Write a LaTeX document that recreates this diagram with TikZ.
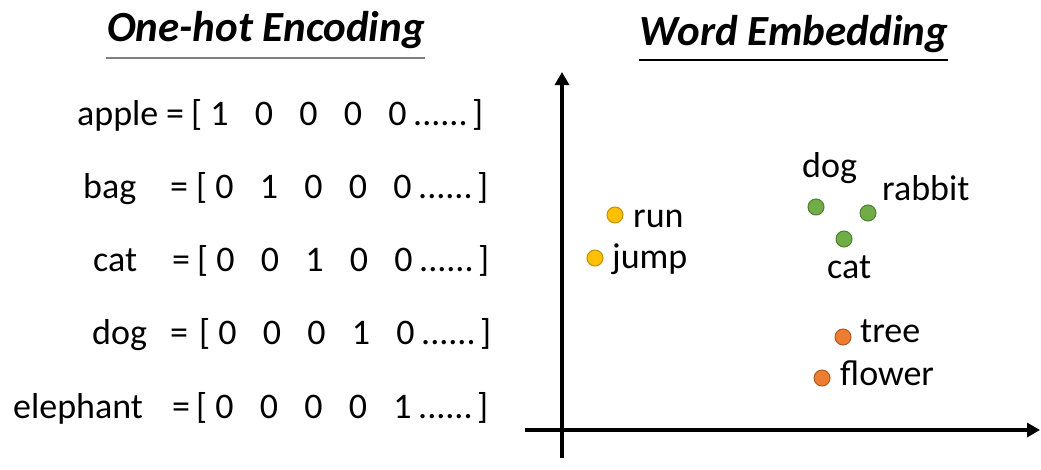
\documentclass[tikz,border=0pt]{standalone}
\usepackage{fontspec}
\setmainfont{Carlito}
\usepackage{tikz}
\usetikzlibrary{positioning,arrows.meta}
\definecolor{DotGold}{RGB}{255,192,0}
\definecolor{DotGoldEdge}{RGB}{191,144,0}
\definecolor{DotGreen}{RGB}{112,173,71}
\definecolor{DotGreenEdge}{RGB}{80,126,50}
\definecolor{DotOrange}{RGB}{237,125,49}
\definecolor{DotOrangeEdge}{RGB}{174,90,33}
\tikzset{
  txt/.style={inner sep=0pt,anchor=base west,font=\fontsize{36}{40}\selectfont},
  bit/.style={inner sep=0pt,anchor=base,font=\fontsize{36}{40}\selectfont},
  heading/.style={inner sep=0pt,anchor=base,font=\fontsize{43}{48}\selectfont\bfseries\itshape},
  dot/.style={circle,inner sep=0pt,minimum size=16pt,line width=1pt},
  axis/.style={line width=4pt,-{Triangle[length=13pt,width=14pt]}}
}

\begin{document}
\begin{tikzpicture}[x=1pt,y=-1pt]
\useasboundingbox (0,0) rectangle (1041,469);
% headings
\node[heading] (onehot) at (266,41) {One-hot Encoding};
\node[heading] (embed) at (794,45) {Word Embedding};
\draw[gray,line width=2.5pt] (106,58) -- (425,58);
\draw[black,line width=2pt] (639,60) -- (948,60);
% one-hot rows
\foreach \w/\wx/\ex/\lx/\one [count=\r] in {apple/77/166/195/1,bag/83/170/200/2,cat/93/172/201/3,dog/92/170/203/4,elephant/13/172/200/5} {
  \pgfmathsetmacro{\yb}{125+73.25*(\r-1)}
  \node[txt] (w\r) at (\wx,\yb) {\w};
  \node[txt] (eq\r) at (\ex,\yb) {=};
  \node[txt] (lb\r) at ({\lx-4},\yb) {[};
  \foreach \c in {1,...,5}
    \node[bit] (b\r\c) at ({180+44.5*\c+\lx-200},\yb) {\ifnum\c=\one\relax 1\else 0\fi};
  \node[txt] (dots\r) at ({\lx+218},\yb) {......};
  \node[txt] (rb\r) at ({\lx+277},\yb) {]};
}
% axes
\coordinate (ybot) at (562,458);
\coordinate (ytop) at (562,72);
\coordinate (xleft) at (525,430);
\coordinate (xright) at (1040,430);
\draw[axis] (ybot) -- (ytop);
\draw[axis] (xleft) -- (xright);
% verbs
\node[dot,fill=DotGold,draw=DotGoldEdge] (run) at (615,215) {};
\node[txt] (runl) at (633,227) {run};
\node[dot,fill=DotGold,draw=DotGoldEdge] (jump) at (595,258) {};
\node[txt] (jumpl) at (612,268) {jump};
% animals
\node[dot,fill=DotGreen,draw=DotGreenEdge] (dog) at (816,207) {};
\node[txt] (dogl) at (802,177) {dog};
\node[dot,fill=DotGreen,draw=DotGreenEdge] (rabbit) at (868,213) {};
\node[txt] (rabbitl) at (882,200) {rabbit};
\node[dot,fill=DotGreen,draw=DotGreenEdge] (cat) at (844,239) {};
\node[txt] (catl) at (827,278) {cat};
% plants
\node[dot,fill=DotOrange,draw=DotOrangeEdge] (tree) at (843,337) {};
\node[txt] (treel) at (860,342) {tree};
\node[dot,fill=DotOrange,draw=DotOrangeEdge] (flower) at (822,378) {};
\node[txt] (flowerl) at (840,385) {flower};
\end{tikzpicture}
\end{document}
